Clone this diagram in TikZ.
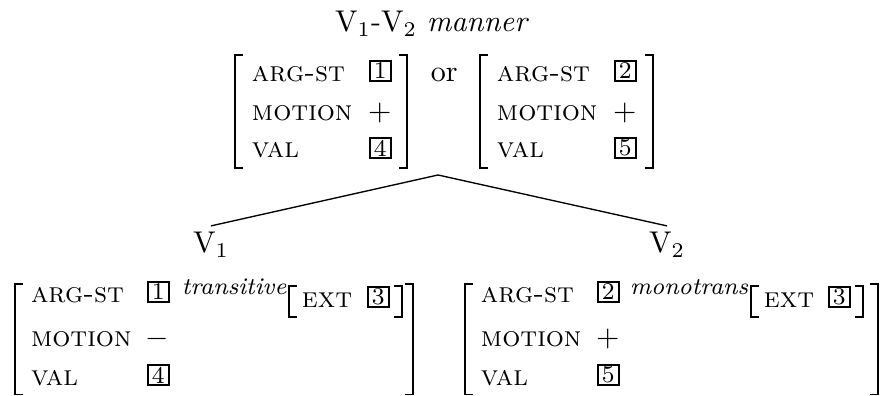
\documentclass[tikz,border=0pt]{standalone}
\usepackage{tikz}
\newcommand{\featfont}{\fontsize{9.5}{11}\selectfont\scshape}
\tikzset{
  feat/.style={inner sep=0pt, outer sep=0pt, anchor=base west, font=\featfont},
  val/.style={inner sep=0pt, outer sep=0pt, anchor=base west},
  sortlbl/.style={inner sep=0pt, outer sep=0pt, anchor=base west, font=\footnotesize\itshape},
  tagbox/.style={draw, line width=0.65pt, inner sep=0pt, outer sep=0pt, minimum width=6.9pt, minimum height=6.7pt, anchor=south west, font=\footnotesize},
  brk/.style={line width=0.5pt},
  cat/.style={inner sep=2.2pt, outer sep=0pt, anchor=base},
  branch/.style={line width=0.45pt}
}
\newcommand{\lbrk}[3]{\draw[brk] (#1+8,#2) -- (#1,#2) -- (#1,#3) -- (#1+8,#3);}
\newcommand{\rbrk}[3]{\draw[brk] (#1-8,#2) -- (#1,#2) -- (#1,#3) -- (#1-8,#3);}
\begin{document}
\begin{tikzpicture}[x=0.3333pt,y=-0.3333pt]
\useasboundingbox (0,0) rectangle (880,396);
% title
\node[inner sep=0pt, anchor=base] (title) at (432,32) {V$_1$-V$_2$\hspace{3.3pt}\textit{manner}};
% top left AVM
\lbrk{235}{55}{168} \rbrk{407}{55}{168}
\node[feat] (aArg) at (252,82) {arg-st};
\node[feat] (aMot) at (252,121) {motion};
\node[feat] (aVal) at (252,158) {val};
\node[tagbox] (aT1) at (370,81) {1};
\node[val] (aPlus) at (368,121) {$+$};
\node[tagbox] (aT4) at (370,158) {4};
% or
\node[val] (or) at (431,82) {or};
% top right AVM
\lbrk{480}{55}{168} \rbrk{653}{55}{168}
\node[feat] (bArg) at (497,82) {arg-st};
\node[feat] (bMot) at (497,121) {motion};
\node[feat] (bVal) at (497,158) {val};
\node[tagbox] (bT2) at (615,81) {2};
\node[val] (bPlus) at (613,121) {$+$};
\node[tagbox] (bT5) at (615,158) {5};
% tree
\coordinate (apex) at (438,175);
\node[cat] (v1) at (211,253) {V$_1$};
\node[cat] (v2) at (667,253) {V$_2$};
\draw[branch] (apex) -- (v1.north);
\draw[branch] (apex) -- (v2.north);
% bottom left AVM
\lbrk{15}{284}{394.5} \rbrk{413}{284}{394.5}
\node[feat] (cArg) at (31,303) {arg-st};
\node[feat] (cMot) at (31,347) {motion};
\node[feat] (cVal) at (31,386) {val};
\node[tagbox] (cT1) at (148,302) {1};
\node[sortlbl] (cSort) at (182,295) {transitive};
\lbrk{289}{286}{317} \rbrk{402}{286}{317}
\node[feat] (cExt) at (302,308) {ext};
\node[tagbox] (cT3) at (368,307) {3};
\node[val] (cMinus) at (146,347) {$-$};
\node[tagbox] (cT4) at (148,385) {4};
% bottom right AVM
\lbrk{465}{284}{394.5} \rbrk{878}{284}{394.5}
\node[feat] (dArg) at (481,303) {arg-st};
\node[feat] (dMot) at (481,347) {motion};
\node[feat] (dVal) at (481,386) {val};
\node[tagbox] (dT2) at (598,302) {2};
\node[sortlbl] (dSort) at (630,295) {monotrans};
\lbrk{751}{286}{317} \rbrk{863}{286}{317}
\node[feat] (dExt) at (764,308) {ext};
\node[tagbox] (dT3) at (829,307) {3};
\node[val] (dPlus) at (596,347) {$+$};
\node[tagbox] (dT5) at (598,385) {5};
\end{tikzpicture}
\end{document}
